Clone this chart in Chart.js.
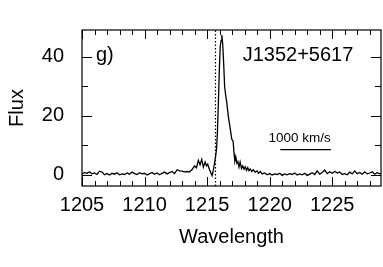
<!DOCTYPE html>
<html>
<head>
<meta charset="utf-8">
<script src="https://cdn.jsdelivr.net/npm/chart.js@4.4.1/dist/chart.umd.min.js"></script>
<style>
  html, body { margin: 0; padding: 0; background: #fff; }
  #wrap { width: 383px; height: 267px; }
</style>
</head>
<body>
<div id="wrap"><canvas id="c" width="383" height="267"></canvas></div>
<script>
// ---- data ----
const wavelength = [
  1205.0,1205.2,1205.4,1205.6,1205.8,1206.0,1206.2,1206.4,1206.6,1206.8,
  1207.0,1207.2,1207.4,1207.6,1207.8,1208.0,1208.2,1208.4,1208.6,1208.8,
  1209.0,1209.2,1209.4,1209.6,1209.8,1210.0,1210.2,1210.4,1210.6,1210.8,
  1211.0,1211.2,1211.4,1211.6,1211.8,1212.0,1212.2,1212.4,1212.6,1212.8,
  1213.0,1213.2,1213.4,1213.6,1213.8,1214.0,1214.15,1214.3,1214.44,1214.57,
  1214.7,1214.84,1214.95,1215.05,1215.2,1215.4,1215.52,1215.65,1215.75,1215.82,
  1215.9,1215.98,1216.05,1216.12,1216.18,1216.25,1216.32,1216.4,1216.48,1216.57,
  1216.7,1216.84,1216.97,1217.08,1217.16,1217.22,1217.3,1217.38,1217.46,1217.55,
  1217.64,1217.75,1217.85,1217.95,1218.05,1218.15,1218.25,1218.35,1218.45,1218.57,
  1218.7,1218.84,1219.0,1219.1,1219.25,1219.4,1219.6,1219.8,1220.0,1220.2,
  1220.4,1220.6,1220.8,1221.0,1221.2,1221.4,1221.6,1221.8,1222.0,1222.2,
  1222.4,1222.6,1222.8,1223.0,1223.2,1223.4,1223.6,1223.8,1224.0,1224.2,
  1224.4,1224.6,1224.8,1225.0,1225.2,1225.4,1225.6,1225.8,1226.0,1226.2,
  1226.4,1226.6,1226.8,1227.0,1227.2,1227.4,1227.6,1227.8,1228.0,1228.2,
  1228.4,1228.6,1228.8,1228.9
];
const flux = [
  0.2,0.8,0.5,1.0,0.3,0.6,0.1,1.2,0.9,0.0,
  0.4,-0.1,0.5,0.2,0.7,0.0,0.3,0.1,0.6,0.2,
  0.9,0.4,0.1,0.7,0.3,0.5,-0.1,0.4,0.8,0.2,
  0.6,0.0,0.5,0.9,0.3,0.7,1.1,0.4,1.7,1.3,
  1.2,1.0,1.1,1.0,1.8,3.0,2.4,4.9,3.4,5.2,
  2.6,4.3,3.0,3.6,1.6,-0.3,2.1,5.4,8.5,14,
  24,36,43.5,45.5,47.3,44,38,30,27,24.5,
  19.7,15.9,12.1,11.3,7.0,4.6,5.8,3.9,4.5,2.6,
  4.3,2.1,3.0,1.9,2.7,1.5,2.4,1.4,2.0,1.1,
  1.7,0.9,1.3,0.5,1.1,0.3,0.6,0.0,0.4,-0.1,
  0.3,0.1,0.5,-0.2,0.3,0.0,0.4,0.1,0.6,-0.1,
  0.3,0.0,0.5,-0.2,0.2,0.7,0.1,1.3,0.2,0.8,
  1.6,0.4,1.0,0.5,1.2,0.6,0.9,0.1,0.4,0.0,
  0.9,0.3,1.3,0.4,0.8,0.2,1.0,0.3,0.6,1.0,
  0.2,0.7,0.3,0.5
];
const lyaWavelength = 1215.67;
const scaleBarWavelength = [1220.85, 1224.9];
const scaleBarFlux = [8.5, 8.5];
const scaleBarLabel = '1000 km/s';
const panelLabel = 'g)';
const objectName = 'J1352+5617';
const xLabelTicks = [1205, 1210, 1215, 1220, 1225];
const yLabelTicks = [0, 20, 40];
const xRange = [1205, 1228.9];
const yRange = [-3.8, 49];

// ---- chart ----
const FONT = '"Liberation Sans", Arial, Helvetica, sans-serif';

const inwardTicks = {
  id: 'inwardTicks',
  afterDraw(chart) {
    const {ctx, chartArea: a, scales: {x, y}} = chart;
    ctx.save();
    ctx.strokeStyle = '#000';
    ctx.lineWidth = 1;
    ctx.beginPath();
    x.ticks.forEach(t => {
      const px = Math.round(x.getPixelForValue(t.value)) + 0.5;
      const len = xLabelTicks.includes(t.value) ? 9 : 5;
      ctx.moveTo(px, a.bottom); ctx.lineTo(px, a.bottom - len);
      ctx.moveTo(px, a.top); ctx.lineTo(px, a.top + len);
    });
    y.ticks.forEach(t => {
      const py = Math.round(y.getPixelForValue(t.value)) + 0.5;
      const len = yLabelTicks.includes(t.value) ? 10 : 6;
      ctx.moveTo(a.left, py); ctx.lineTo(a.left + len, py);
      ctx.moveTo(a.right, py); ctx.lineTo(a.right - len, py);
    });
    ctx.stroke();
    ctx.lineWidth = 1.2;
    ctx.strokeRect(a.left, a.top, a.right - a.left, a.bottom - a.top);
    // texts
    ctx.fillStyle = '#000';
    ctx.textBaseline = 'alphabetic';
    ctx.font = '20px ' + FONT;
    ctx.textAlign = 'left';
    ctx.fillText(panelLabel, a.left + 14, a.top + 31);
    ctx.textAlign = 'center';
    ctx.fillText(objectName, a.left + 216, a.top + 31);
    ctx.font = '13.5px ' + FONT;
    const sx = (x.getPixelForValue(scaleBarWavelength[0]) + x.getPixelForValue(scaleBarWavelength[1])) / 2 - 6;
    const sy = y.getPixelForValue(scaleBarFlux[0]) - 8;
    ctx.fillText(scaleBarLabel, sx, sy);
    ctx.restore();
  }
};

new Chart(document.getElementById('c'), {
  type: 'line',
  data: {
    datasets: [
      {
        data: wavelength.map((w, i) => ({x: w, y: flux[i]})),
        borderColor: '#000', borderWidth: 1.3, pointRadius: 0, tension: 0, fill: false
      },
      {
        data: [{x: lyaWavelength, y: yRange[0]}, {x: lyaWavelength, y: yRange[1]}],
        borderColor: '#000', borderWidth: 1.2, borderDash: [1.5, 2], pointRadius: 0, fill: false
      },
      {
        data: scaleBarWavelength.map((w, i) => ({x: w, y: scaleBarFlux[i]})),
        borderColor: '#000', borderWidth: 1.2, pointRadius: 0, fill: false
      }
    ]
  },
  options: {
    responsive: false,
    animation: false,
    events: [],
    layout: {padding: {top: 1, right: 2, left: 0, bottom: 0}},
    plugins: {legend: {display: false}, tooltip: {enabled: false}},
    scales: {
      x: {
        type: 'linear', min: xRange[0], max: xRange[1],
        grid: {display: false, drawTicks: false},
        border: {display: false},
        ticks: {
          stepSize: 1, includeBounds: false, autoSkip: false, maxRotation: 0,
          padding: 7, color: '#000', font: {family: FONT, size: 20},
          callback: v => xLabelTicks.includes(v) ? String(v) : ''
        },
        title: {display: true, text: 'Wavelength', color: '#000',
          font: {family: FONT, size: 20}, padding: {top: 0, bottom: 18}},
        afterFit: s => { s.height = 81; }
      },
      y: {
        type: 'linear', min: yRange[0], max: yRange[1],
        grid: {display: false, drawTicks: false},
        border: {display: false},
        ticks: {
          stepSize: 10, includeBounds: false, autoSkip: false,
          padding: 18, color: '#000', font: {family: FONT, size: 20},
          callback: v => yLabelTicks.includes(v) ? String(v) : ''
        },
        title: {display: true, text: 'Flux', color: '#000',
          font: {family: FONT, size: 20}, padding: {top: 5, bottom: 0}},
        afterFit: s => { s.width = 82; }
      }
    }
  },
  plugins: [inwardTicks]
});
</script>
</body>
</html>
